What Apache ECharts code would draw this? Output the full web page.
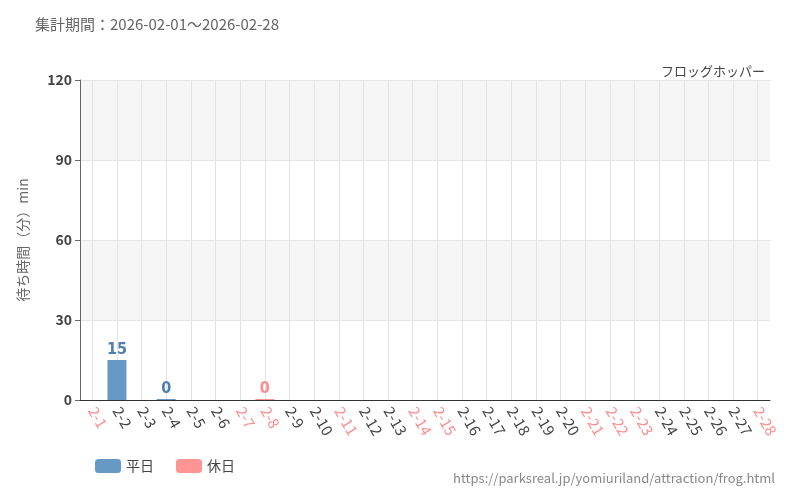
<!DOCTYPE html>
<html><head><meta charset="utf-8">
<script src="https://cdn.jsdelivr.net/npm/echarts@6/dist/echarts.min.js"></script>
<style>html,body{margin:0;padding:0}#c{width:800px;height:500px}</style>
</head><body><div id="c"></div>
<script>
const categories = ['2-1','2-2','2-3','2-4','2-5','2-6','2-7','2-8','2-9','2-10','2-11','2-12','2-13','2-14','2-15','2-16','2-17','2-18','2-19','2-20','2-21','2-22','2-23','2-24','2-25','2-26','2-27','2-28'];
const holidays = ['2-1','2-7','2-8','2-11','2-14','2-15','2-21','2-22','2-23','2-28'];
const weekday = [null,15,null,0,null,null,null,null,null,null,null,null,null,null,null,null,null,null,null,null,null,null,null,null,null,null,null,null];
const holiday = [null,null,null,null,null,null,null,0,null,null,null,null,null,null,null,null,null,null,null,null,null,null,null,null,null,null,null,null];
const yTicks = [0,30,60,90,120];
const F = '"Noto Sans CJK JP","Noto Sans",sans-serif';
const chart = echarts.init(document.getElementById('c'));
chart.setOption({
  animation:false,
  textStyle:{fontFamily:F},
  title:[{text:'集計期間：2026-02-01～2026-02-28',left:30,top:12,textStyle:{fontSize:15,fontWeight:'normal',color:'#666',fontFamily:F}},
         {text:'フロッグホッパー',right:30,top:60,textStyle:{fontSize:13,fontWeight:'normal',color:'#444',fontFamily:F}},
         {text:'https://parksreal.jp/yomiuriland/attraction/frog.html',right:20,bottom:10,textStyle:{fontSize:13,fontWeight:'normal',color:'#888',fontFamily:F}}],
  legend:{left:90,bottom:22,itemWidth:26,itemHeight:14,itemGap:22,textStyle:{fontSize:14,color:'#444'},data:['平日','休日']},
  grid:{left:80,right:30,top:80,bottom:100},
  xAxis:{type:'category',data:categories,
    axisLine:{lineStyle:{color:'#333'}},
    axisTick:{alignWithLabel:true,lineStyle:{color:'#000'}},
    splitLine:{show:false},
    axisLabel:{interval:0,rotate:-60,fontSize:15,margin:8,
      color:(v)=>holidays.includes(v)?'#ff8c8c':'#444'}},
  yAxis:[{type:'value',min:0,max:120,interval:30,name:'待ち時間（分）min',nameLocation:'middle',nameGap:50,
    nameTextStyle:{fontSize:14,color:'#666'},
    axisLine:{show:true,lineStyle:{color:'#666'}},axisTick:{show:true,lineStyle:{color:'#666'}},
    axisLabel:{fontSize:14,color:'#444',fontWeight:'bold',formatter:(v)=>yTicks.includes(v)?String(v):''},
    splitLine:{lineStyle:{color:'#e6e6e6'}},
    splitArea:{show:true,areaStyle:{color:['#fff','#f6f6f6']}}}],
  series:[
    {type:'line',z:0,data:[],markLine:{silent:true,symbol:'none',label:{show:false},lineStyle:{color:'#e3e3e3',type:'solid',width:1},
      data:categories.map(c=>({xAxis:c}))}},
    {name:'平日',type:'bar',z:5,data:weekday,barWidth:19,barGap:'-100%',barMinHeight:1,itemStyle:{color:'#6699c4'},
     label:{show:true,position:'top',distance:2,color:'#4f7fb0',fontSize:16,fontFamily:'"Liberation Sans Narrow","DejaVu Sans Condensed",sans-serif',fontWeight:'bold'}},
    {name:'休日',type:'bar',z:5,data:holiday,barWidth:19,barMinHeight:1,itemStyle:{color:'#ff9494'},
     label:{show:true,position:'top',distance:2,color:'#ff8c8c',fontSize:16,fontFamily:'"Liberation Sans Narrow","DejaVu Sans Condensed",sans-serif',fontWeight:'bold'}}
  ]
});
</script></body></html>
